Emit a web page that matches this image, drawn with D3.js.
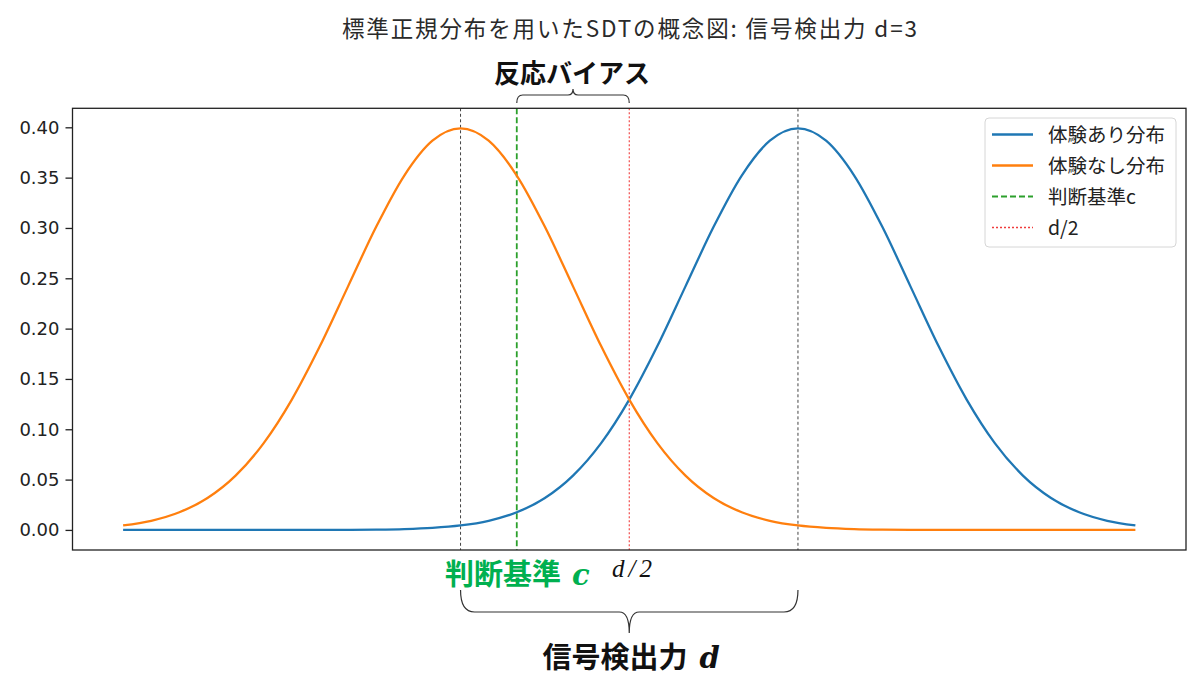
<!DOCTYPE html>
<html><head><meta charset="utf-8">
<script src="https://cdn.jsdelivr.net/npm/d3@7"></script>
<style>
body{margin:0;background:#fff;}
svg{display:block;}
</style></head>
<body>
<svg id="chart" width="1200" height="692"></svg>
<script>
// ---- data ----
const xValues = [-3,-2.75,-2.5,-2.25,-2,-1.75,-1.5,-1.25,-1,-0.75,-0.5,-0.25,0,0.25,0.5,0.75,1,1.25,1.5,1.75,2,2.25,2.5,2.75,3,3.25,3.5,3.75,4,4.25,4.5,4.75,5,5.25,5.5,5.75,6];
const noiseValues = [0.00443,0.00909,0.01753,0.03174,0.05399,0.08628,0.12952,0.18265,0.24197,0.30114,0.35207,0.38667,0.39894,0.38667,0.35207,0.30114,0.24197,0.18265,0.12952,0.08628,0.05399,0.03174,0.01753,0.00909,0.00443,0.00203,0.00087,0.00035,0.00013,0.00005,0.00002,0.00001,0,0,0,0,0];
const signalValues = [0,0,0,0,0,0.00001,0.00002,0.00005,0.00013,0.00035,0.00087,0.00203,0.00443,0.00909,0.01753,0.03174,0.05399,0.08628,0.12952,0.18265,0.24197,0.30114,0.35207,0.38667,0.39894,0.38667,0.35207,0.30114,0.24197,0.18265,0.12952,0.08628,0.05399,0.03174,0.01753,0.00909,0.00443];
const noiseMean = 0;
const dPrime = 3;
const criterion = 0.5;
const halfD = 1.5;
const yTicks = [0,0.05,0.10,0.15,0.20,0.25,0.30,0.35,0.40];
const legendLabels = ["体験あり分布","体験なし分布","判断基準c","d/2"];
const titleText = "標準正規分布を用いたSDTの概念図: 信号検出力 d=3";

const svg = d3.select("#chart");
const L = 72.5, R = 1186, T = 108.3, B = 550;
const xMin = d3.min(xValues), xMax = d3.max(xValues);
const xPad = (xMax - xMin) * 0.05;
const yMaxData = d3.max(noiseValues.concat(signalValues));
const yPad = yMaxData * 0.05;
const x = d3.scaleLinear().domain([xMin - xPad, xMax + xPad]).range([L, R]);
const y = d3.scaleLinear().domain([-yPad, yMaxData + yPad]).range([B, T]);

const jp = "'Noto Sans CJK JP','DejaVu Sans',sans-serif";

// title
svg.append("text").attr("x", 342).attr("y", 37)
  .attr("textLength", 575).attr("lengthAdjust", "spacing")
  .style("font-family", jp).style("font-size", "22.5px").attr("fill", "#2a2a2a")
  .text(titleText);

// y axis
const yAxis = d3.axisLeft(y).tickValues(yTicks).tickFormat(d3.format(".2f")).tickSize(7).tickPadding(6);
const ga = svg.append("g").attr("transform", `translate(${L},0)`).call(yAxis);
ga.select(".domain").remove();
ga.selectAll(".tick line").attr("stroke", "#222").attr("stroke-width", 1.3);
ga.selectAll(".tick text").style("font-family", "'DejaVu Sans',sans-serif").style("font-size", "18px").attr("fill", "#222");

// vertical reference lines
const redColor = "#f03c3c";
const vlines = [
  {v: noiseMean, color: "#444", dash: "3,2.5", w: 1},
  {v: dPrime, color: "#444", dash: "3,2.5", w: 1},
  {v: criterion, color: "#2ca02c", dash: "6,3", w: 1.8},
  {v: halfD, color: redColor, dash: "2,2", w: 1.1}
];
svg.selectAll("line.vl").data(vlines).enter().append("line").attr("class", "vl")
  .attr("x1", d => x(d.v)).attr("x2", d => x(d.v)).attr("y1", T).attr("y2", B)
  .attr("stroke", d => d.color).attr("stroke-dasharray", d => d.dash).attr("stroke-width", d => d.w);

// curves
const lineGen = vals => d3.line().x((d, i) => x(xValues[i])).y(d => y(d)).curve(d3.curveMonotoneX)(vals);
svg.append("path").attr("d", lineGen(signalValues)).attr("fill", "none").attr("stroke", "#1f77b4").attr("stroke-width", 2.3);
svg.append("path").attr("d", lineGen(noiseValues)).attr("fill", "none").attr("stroke", "#ff7f0e").attr("stroke-width", 2.3);

// frame
svg.append("rect").attr("x", L).attr("y", T).attr("width", R - L).attr("height", B - T)
  .attr("fill", "none").attr("stroke", "#222").attr("stroke-width", 1.3);

// legend
const lg = svg.append("g");
lg.append("rect").attr("x", 985).attr("y", 118).attr("width", 191).attr("height", 129).attr("rx", 4)
  .attr("fill", "#fff").attr("fill-opacity", 0.8).attr("stroke", "#d6d6d6").attr("stroke-width", 1);
const legendStyles = [
  {color: "#1f77b4", dash: null, w: 2.3},
  {color: "#ff7f0e", dash: null, w: 2.3},
  {color: "#2ca02c", dash: "6,3", w: 1.8},
  {color: redColor, dash: "2,2", w: 1.3}
];
legendLabels.forEach((lab, i) => {
  const yy = 134.5 + i * 31;
  const s = legendStyles[i];
  lg.append("line").attr("x1", 992).attr("x2", 1033).attr("y1", yy).attr("y2", yy)
    .attr("stroke", s.color).attr("stroke-width", s.w).attr("stroke-dasharray", s.dash);
  lg.append("text").attr("x", 1048).attr("y", yy + 7).style("font-family", jp).style("font-size", "19.5px")
    .attr("fill", "#222").text(lab);
});

// annotations: top brace (response bias)
const bx1 = x(criterion), bx2 = x(halfD), bmid = (bx1 + bx2) / 2;
svg.append("path").attr("fill", "none").attr("stroke", "#333").attr("stroke-width", 1.2)
  .attr("d", `M${bx1},103 Q${bx1},95 ${bx1 + 6},95 L${bmid - 5},95 Q${bmid},95 ${bmid},89 Q${bmid},95 ${bmid + 5},95 L${bx2 - 6},95 Q${bx2},95 ${bx2},103`);
svg.append("text").attr("x", bmid - 1).attr("y", 83).attr("text-anchor", "middle")
  .style("font-family", jp).style("font-weight", "bold").style("font-size", "26px").attr("fill", "#111").text("反応バイアス");

// bottom brace (d')
const cx1 = x(noiseMean), cx2 = x(dPrime), cmid = (cx1 + cx2) / 2;
svg.append("path").attr("fill", "none").attr("stroke", "#333").attr("stroke-width", 1.2)
  .attr("d", `M${cx1},590 Q${cx1},612 ${cx1 + 14},612 L${cmid - 10},612 Q${cmid},612 ${cmid},633 Q${cmid},612 ${cmid + 10},612 L${cx2 - 14},612 Q${cx2},612 ${cx2},590`);

const t1 = svg.append("text").attr("x", 445).attr("y", 585)
  .style("font-family", jp).style("font-weight", "bold").style("font-size", "29px").attr("fill", "#00b050");
t1.append("tspan").text("判断基準");
t1.append("tspan").attr("dx", 11).style("font-family", "'DejaVu Serif','Liberation Serif',serif").style("font-style", "italic").style("font-weight", "bold").style("font-size", "29px").text("c");

svg.append("text").attr("x", 612).attr("y", 577).attr("textLength", 40).attr("lengthAdjust", "spacing")
  .style("font-family", "'Liberation Serif','DejaVu Serif',serif").style("font-style", "italic").style("font-size", "25px").attr("fill", "#111").text("d/2");

const t2 = svg.append("text").attr("x", cmid + 2).attr("y", 668).attr("text-anchor", "middle")
  .style("font-family", jp).style("font-weight", "bold").style("font-size", "29px").attr("fill", "#111");
t2.append("tspan").text("信号検出力");
t2.append("tspan").attr("dx", 12).style("font-family", "'DejaVu Serif','Liberation Serif',serif").style("font-style", "italic").style("font-weight", "bold").text("d");
</script>
</body></html>
